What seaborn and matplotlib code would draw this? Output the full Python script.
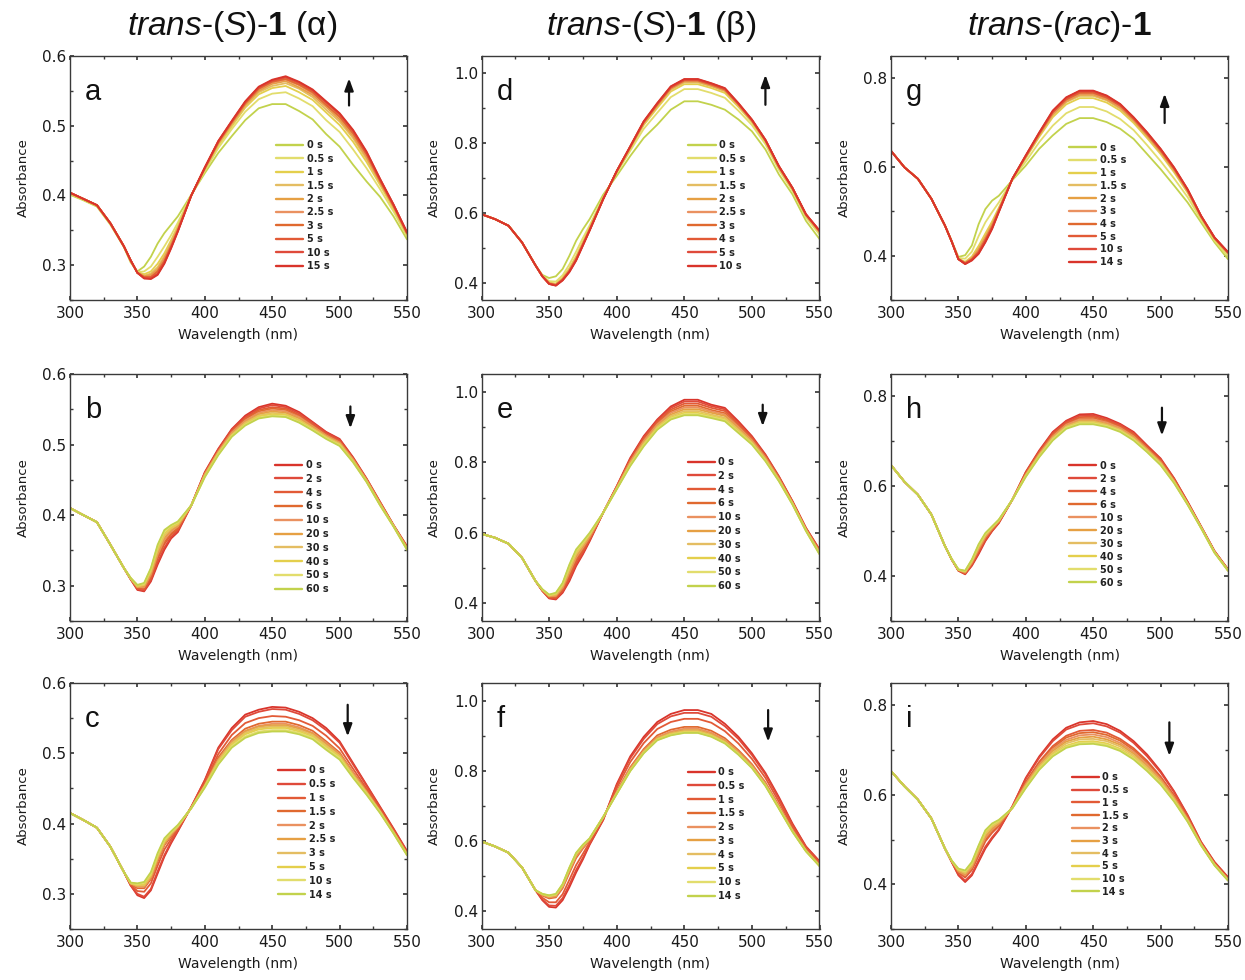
import matplotlib
matplotlib.use("Agg")
import matplotlib.pyplot as plt
from matplotlib.ticker import MultipleLocator
import pandas as pd
import seaborn as sns

# ---------------------------------------------------------------- data
wavelength = [300, 310, 320, 330, 340, 345, 350, 355, 360, 365, 370, 375, 380, 390, 400,
              410, 420, 430, 440, 450, 460, 470, 480, 490, 500, 510, 520, 530, 540, 550]

times_a = ["0 s", "0.5 s", "1 s", "1.5 s", "2 s", "2.5 s", "3 s", "5 s", "10 s", "15 s"]
absorb_a = [
    [0.401, 0.393, 0.384, 0.358, 0.326, 0.304, 0.291, 0.298, 0.312, 0.331, 0.346, 0.358, 0.370, 0.401, 0.432, 0.461, 0.485, 0.508, 0.525, 0.531, 0.531, 0.521, 0.509, 0.488, 0.470, 0.444, 0.420, 0.398, 0.370, 0.337],
    [0.402, 0.394, 0.385, 0.359, 0.326, 0.305, 0.290, 0.291, 0.298, 0.312, 0.327, 0.343, 0.361, 0.401, 0.435, 0.468, 0.495, 0.520, 0.538, 0.546, 0.548, 0.539, 0.528, 0.508, 0.491, 0.466, 0.439, 0.409, 0.377, 0.341],
    [0.403, 0.394, 0.385, 0.359, 0.327, 0.306, 0.290, 0.287, 0.291, 0.302, 0.317, 0.336, 0.356, 0.400, 0.437, 0.472, 0.499, 0.526, 0.545, 0.554, 0.557, 0.548, 0.537, 0.519, 0.501, 0.477, 0.448, 0.415, 0.381, 0.344],
    [0.403, 0.395, 0.386, 0.360, 0.327, 0.306, 0.290, 0.285, 0.288, 0.297, 0.313, 0.333, 0.354, 0.400, 0.438, 0.474, 0.502, 0.528, 0.548, 0.557, 0.561, 0.553, 0.541, 0.523, 0.506, 0.482, 0.452, 0.418, 0.383, 0.345],
    [0.403, 0.395, 0.386, 0.360, 0.327, 0.306, 0.289, 0.284, 0.286, 0.294, 0.310, 0.330, 0.352, 0.400, 0.439, 0.475, 0.503, 0.530, 0.550, 0.560, 0.564, 0.555, 0.544, 0.527, 0.509, 0.485, 0.455, 0.419, 0.384, 0.345],
    [0.404, 0.395, 0.386, 0.360, 0.327, 0.307, 0.289, 0.283, 0.284, 0.292, 0.308, 0.328, 0.351, 0.400, 0.439, 0.476, 0.504, 0.532, 0.552, 0.562, 0.566, 0.558, 0.546, 0.529, 0.512, 0.488, 0.457, 0.421, 0.385, 0.346],
    [0.404, 0.395, 0.386, 0.360, 0.327, 0.307, 0.289, 0.283, 0.283, 0.291, 0.306, 0.327, 0.350, 0.400, 0.439, 0.476, 0.505, 0.532, 0.553, 0.563, 0.567, 0.559, 0.548, 0.530, 0.513, 0.489, 0.459, 0.421, 0.385, 0.346],
    [0.404, 0.395, 0.386, 0.360, 0.327, 0.307, 0.289, 0.282, 0.282, 0.288, 0.304, 0.326, 0.349, 0.400, 0.440, 0.477, 0.506, 0.534, 0.555, 0.564, 0.569, 0.561, 0.550, 0.533, 0.516, 0.492, 0.461, 0.423, 0.386, 0.347],
    [0.404, 0.395, 0.386, 0.360, 0.327, 0.307, 0.289, 0.281, 0.281, 0.287, 0.303, 0.325, 0.349, 0.400, 0.440, 0.478, 0.506, 0.534, 0.555, 0.565, 0.570, 0.562, 0.551, 0.534, 0.517, 0.493, 0.462, 0.423, 0.387, 0.347],
    [0.404, 0.395, 0.386, 0.360, 0.327, 0.307, 0.289, 0.281, 0.280, 0.286, 0.302, 0.324, 0.348, 0.400, 0.440, 0.478, 0.507, 0.535, 0.556, 0.566, 0.571, 0.563, 0.552, 0.535, 0.518, 0.494, 0.463, 0.424, 0.387, 0.347],
]

times_d = ["0 s", "0.5 s", "1 s", "1.5 s", "2 s", "2.5 s", "3 s", "4 s", "5 s", "10 s"]
absorb_d = [
    [0.596, 0.582, 0.563, 0.515, 0.449, 0.422, 0.413, 0.418, 0.439, 0.477, 0.520, 0.553, 0.582, 0.652, 0.706, 0.763, 0.815, 0.853, 0.896, 0.920, 0.920, 0.910, 0.896, 0.868, 0.834, 0.782, 0.710, 0.653, 0.577, 0.525],
    [0.596, 0.582, 0.563, 0.515, 0.449, 0.420, 0.404, 0.403, 0.421, 0.452, 0.489, 0.528, 0.564, 0.645, 0.714, 0.778, 0.841, 0.887, 0.932, 0.955, 0.955, 0.944, 0.930, 0.893, 0.852, 0.797, 0.723, 0.663, 0.587, 0.538],
    [0.596, 0.582, 0.563, 0.515, 0.449, 0.419, 0.400, 0.397, 0.414, 0.441, 0.476, 0.517, 0.557, 0.642, 0.717, 0.785, 0.852, 0.901, 0.948, 0.969, 0.969, 0.958, 0.944, 0.904, 0.860, 0.804, 0.729, 0.668, 0.592, 0.544],
    [0.596, 0.582, 0.563, 0.515, 0.449, 0.419, 0.399, 0.395, 0.411, 0.437, 0.472, 0.513, 0.554, 0.641, 0.718, 0.787, 0.856, 0.906, 0.953, 0.974, 0.974, 0.963, 0.949, 0.908, 0.863, 0.806, 0.730, 0.669, 0.593, 0.545],
    [0.596, 0.582, 0.563, 0.515, 0.449, 0.418, 0.398, 0.394, 0.410, 0.435, 0.469, 0.511, 0.553, 0.640, 0.719, 0.788, 0.858, 0.908, 0.956, 0.977, 0.977, 0.965, 0.951, 0.910, 0.864, 0.807, 0.731, 0.670, 0.594, 0.546],
    [0.596, 0.582, 0.563, 0.515, 0.449, 0.418, 0.397, 0.393, 0.409, 0.434, 0.468, 0.510, 0.552, 0.640, 0.719, 0.789, 0.859, 0.910, 0.958, 0.979, 0.979, 0.967, 0.953, 0.911, 0.865, 0.808, 0.732, 0.671, 0.595, 0.547],
    [0.596, 0.582, 0.563, 0.515, 0.449, 0.418, 0.397, 0.393, 0.408, 0.433, 0.466, 0.509, 0.551, 0.640, 0.719, 0.789, 0.860, 0.911, 0.959, 0.980, 0.980, 0.968, 0.954, 0.912, 0.866, 0.808, 0.733, 0.671, 0.595, 0.548],
    [0.596, 0.582, 0.563, 0.515, 0.449, 0.418, 0.397, 0.392, 0.408, 0.432, 0.466, 0.508, 0.551, 0.640, 0.719, 0.790, 0.861, 0.912, 0.960, 0.981, 0.981, 0.969, 0.955, 0.913, 0.866, 0.809, 0.733, 0.671, 0.595, 0.548],
    [0.596, 0.582, 0.563, 0.515, 0.449, 0.418, 0.396, 0.392, 0.407, 0.431, 0.464, 0.507, 0.550, 0.639, 0.720, 0.790, 0.862, 0.914, 0.962, 0.983, 0.983, 0.971, 0.957, 0.914, 0.867, 0.809, 0.734, 0.672, 0.596, 0.549],
    [0.596, 0.582, 0.563, 0.515, 0.449, 0.418, 0.396, 0.391, 0.406, 0.430, 0.463, 0.506, 0.549, 0.639, 0.720, 0.791, 0.863, 0.915, 0.963, 0.984, 0.984, 0.972, 0.958, 0.915, 0.868, 0.810, 0.734, 0.672, 0.596, 0.549],
]

times_g = ["0 s", "0.5 s", "1 s", "1.5 s", "2 s", "3 s", "4 s", "5 s", "10 s", "14 s"]
absorb_g = [
    [0.636, 0.599, 0.573, 0.528, 0.468, 0.433, 0.397, 0.401, 0.423, 0.471, 0.505, 0.524, 0.535, 0.570, 0.603, 0.641, 0.671, 0.697, 0.710, 0.710, 0.701, 0.686, 0.663, 0.629, 0.595, 0.558, 0.520, 0.475, 0.430, 0.392],
    [0.636, 0.599, 0.573, 0.528, 0.468, 0.433, 0.395, 0.393, 0.409, 0.444, 0.475, 0.498, 0.520, 0.571, 0.612, 0.656, 0.693, 0.721, 0.735, 0.735, 0.725, 0.708, 0.683, 0.649, 0.613, 0.574, 0.532, 0.481, 0.434, 0.398],
    [0.636, 0.599, 0.573, 0.528, 0.468, 0.432, 0.393, 0.386, 0.398, 0.422, 0.450, 0.477, 0.508, 0.572, 0.620, 0.668, 0.712, 0.741, 0.755, 0.755, 0.745, 0.727, 0.699, 0.665, 0.629, 0.588, 0.542, 0.486, 0.438, 0.404],
    [0.636, 0.599, 0.573, 0.528, 0.468, 0.432, 0.393, 0.385, 0.395, 0.417, 0.444, 0.472, 0.505, 0.572, 0.622, 0.671, 0.716, 0.746, 0.760, 0.760, 0.750, 0.731, 0.703, 0.669, 0.632, 0.591, 0.544, 0.487, 0.439, 0.405],
    [0.636, 0.599, 0.573, 0.528, 0.468, 0.432, 0.393, 0.384, 0.394, 0.414, 0.441, 0.470, 0.504, 0.573, 0.623, 0.673, 0.719, 0.748, 0.763, 0.763, 0.752, 0.734, 0.705, 0.671, 0.634, 0.593, 0.546, 0.488, 0.439, 0.406],
    [0.636, 0.599, 0.573, 0.528, 0.468, 0.432, 0.392, 0.383, 0.393, 0.411, 0.438, 0.467, 0.502, 0.573, 0.624, 0.674, 0.721, 0.750, 0.765, 0.765, 0.754, 0.736, 0.707, 0.673, 0.636, 0.595, 0.547, 0.488, 0.440, 0.406],
    [0.636, 0.599, 0.573, 0.528, 0.468, 0.432, 0.392, 0.383, 0.392, 0.409, 0.436, 0.465, 0.501, 0.573, 0.624, 0.675, 0.723, 0.752, 0.767, 0.767, 0.756, 0.738, 0.708, 0.674, 0.637, 0.596, 0.548, 0.489, 0.440, 0.407],
    [0.636, 0.599, 0.573, 0.528, 0.468, 0.432, 0.392, 0.382, 0.391, 0.407, 0.434, 0.463, 0.500, 0.573, 0.625, 0.676, 0.724, 0.754, 0.769, 0.769, 0.758, 0.739, 0.710, 0.676, 0.639, 0.597, 0.549, 0.489, 0.440, 0.407],
    [0.636, 0.599, 0.573, 0.528, 0.468, 0.432, 0.392, 0.381, 0.390, 0.405, 0.431, 0.461, 0.499, 0.573, 0.626, 0.677, 0.726, 0.756, 0.771, 0.771, 0.760, 0.741, 0.711, 0.677, 0.640, 0.598, 0.549, 0.490, 0.441, 0.408],
    [0.636, 0.599, 0.573, 0.528, 0.468, 0.432, 0.392, 0.381, 0.389, 0.404, 0.430, 0.460, 0.498, 0.573, 0.626, 0.678, 0.727, 0.757, 0.772, 0.772, 0.761, 0.742, 0.712, 0.678, 0.641, 0.599, 0.550, 0.490, 0.441, 0.408],
]

times_b = ["0 s", "2 s", "4 s", "6 s", "10 s", "20 s", "30 s", "40 s", "50 s", "60 s"]
absorb_b = [
    [0.410, 0.400, 0.390, 0.358, 0.325, 0.309, 0.294, 0.292, 0.306, 0.330, 0.351, 0.367, 0.376, 0.414, 0.461, 0.494, 0.522, 0.541, 0.553, 0.558, 0.555, 0.546, 0.532, 0.518, 0.508, 0.482, 0.452, 0.419, 0.386, 0.356],
    [0.410, 0.400, 0.390, 0.358, 0.325, 0.309, 0.295, 0.293, 0.308, 0.333, 0.354, 0.369, 0.378, 0.414, 0.460, 0.493, 0.521, 0.539, 0.551, 0.556, 0.553, 0.544, 0.531, 0.517, 0.507, 0.481, 0.451, 0.418, 0.386, 0.355],
    [0.410, 0.400, 0.390, 0.358, 0.325, 0.310, 0.296, 0.295, 0.311, 0.338, 0.359, 0.372, 0.380, 0.414, 0.459, 0.491, 0.519, 0.537, 0.549, 0.553, 0.551, 0.542, 0.529, 0.515, 0.505, 0.480, 0.451, 0.418, 0.385, 0.355],
    [0.410, 0.400, 0.390, 0.358, 0.325, 0.310, 0.297, 0.297, 0.313, 0.341, 0.362, 0.374, 0.382, 0.414, 0.458, 0.490, 0.518, 0.536, 0.547, 0.551, 0.549, 0.540, 0.527, 0.514, 0.504, 0.479, 0.450, 0.417, 0.385, 0.354],
    [0.410, 0.400, 0.390, 0.358, 0.325, 0.310, 0.298, 0.298, 0.316, 0.344, 0.365, 0.377, 0.384, 0.414, 0.458, 0.490, 0.517, 0.534, 0.545, 0.549, 0.547, 0.539, 0.526, 0.513, 0.503, 0.479, 0.450, 0.417, 0.385, 0.354],
    [0.410, 0.400, 0.390, 0.358, 0.325, 0.310, 0.298, 0.299, 0.318, 0.347, 0.368, 0.379, 0.385, 0.414, 0.457, 0.489, 0.515, 0.532, 0.543, 0.547, 0.545, 0.537, 0.525, 0.512, 0.502, 0.478, 0.449, 0.416, 0.385, 0.353],
    [0.410, 0.400, 0.390, 0.358, 0.325, 0.310, 0.299, 0.301, 0.320, 0.350, 0.371, 0.381, 0.387, 0.414, 0.456, 0.488, 0.514, 0.531, 0.541, 0.545, 0.543, 0.535, 0.523, 0.511, 0.501, 0.477, 0.448, 0.415, 0.385, 0.352],
    [0.410, 0.400, 0.390, 0.358, 0.325, 0.311, 0.300, 0.302, 0.322, 0.353, 0.374, 0.383, 0.388, 0.414, 0.455, 0.487, 0.513, 0.529, 0.540, 0.543, 0.542, 0.534, 0.522, 0.510, 0.500, 0.476, 0.448, 0.415, 0.384, 0.352],
    [0.410, 0.400, 0.390, 0.358, 0.325, 0.311, 0.301, 0.303, 0.324, 0.356, 0.377, 0.385, 0.390, 0.414, 0.454, 0.486, 0.512, 0.528, 0.538, 0.541, 0.540, 0.532, 0.521, 0.509, 0.499, 0.475, 0.447, 0.414, 0.384, 0.351],
    [0.410, 0.400, 0.390, 0.358, 0.325, 0.311, 0.301, 0.304, 0.325, 0.358, 0.379, 0.386, 0.391, 0.414, 0.454, 0.485, 0.511, 0.527, 0.537, 0.540, 0.539, 0.531, 0.520, 0.508, 0.498, 0.475, 0.447, 0.414, 0.384, 0.351],
]

times_e = ["0 s", "2 s", "4 s", "6 s", "10 s", "20 s", "30 s", "40 s", "50 s", "60 s"]
absorb_e = [
    [0.597, 0.586, 0.569, 0.529, 0.463, 0.435, 0.414, 0.411, 0.430, 0.463, 0.506, 0.539, 0.576, 0.657, 0.732, 0.812, 0.874, 0.921, 0.958, 0.977, 0.977, 0.963, 0.954, 0.916, 0.874, 0.822, 0.760, 0.690, 0.614, 0.553],
    [0.597, 0.586, 0.569, 0.529, 0.463, 0.436, 0.415, 0.413, 0.433, 0.468, 0.511, 0.543, 0.579, 0.657, 0.731, 0.809, 0.871, 0.918, 0.954, 0.972, 0.972, 0.959, 0.950, 0.912, 0.871, 0.820, 0.758, 0.689, 0.613, 0.551],
    [0.597, 0.586, 0.569, 0.529, 0.463, 0.436, 0.417, 0.416, 0.437, 0.475, 0.518, 0.548, 0.582, 0.657, 0.730, 0.806, 0.867, 0.914, 0.949, 0.966, 0.966, 0.954, 0.945, 0.908, 0.868, 0.817, 0.757, 0.688, 0.612, 0.550],
    [0.597, 0.586, 0.569, 0.529, 0.463, 0.437, 0.418, 0.418, 0.441, 0.481, 0.524, 0.553, 0.585, 0.657, 0.728, 0.803, 0.863, 0.910, 0.944, 0.960, 0.960, 0.948, 0.939, 0.903, 0.865, 0.815, 0.755, 0.686, 0.610, 0.548],
    [0.597, 0.586, 0.569, 0.529, 0.463, 0.438, 0.420, 0.421, 0.444, 0.487, 0.530, 0.558, 0.588, 0.657, 0.728, 0.801, 0.860, 0.907, 0.940, 0.955, 0.955, 0.944, 0.935, 0.900, 0.862, 0.813, 0.753, 0.685, 0.610, 0.546],
    [0.597, 0.586, 0.569, 0.529, 0.463, 0.438, 0.421, 0.423, 0.447, 0.492, 0.535, 0.562, 0.591, 0.657, 0.727, 0.798, 0.856, 0.903, 0.935, 0.950, 0.950, 0.940, 0.931, 0.896, 0.859, 0.810, 0.751, 0.684, 0.609, 0.544],
    [0.597, 0.586, 0.569, 0.529, 0.463, 0.439, 0.422, 0.425, 0.450, 0.497, 0.540, 0.566, 0.594, 0.657, 0.725, 0.795, 0.853, 0.900, 0.931, 0.945, 0.945, 0.935, 0.926, 0.892, 0.856, 0.808, 0.750, 0.683, 0.607, 0.543],
    [0.597, 0.586, 0.569, 0.529, 0.463, 0.439, 0.423, 0.427, 0.454, 0.502, 0.545, 0.570, 0.596, 0.657, 0.724, 0.793, 0.850, 0.897, 0.927, 0.940, 0.940, 0.931, 0.922, 0.888, 0.854, 0.806, 0.748, 0.682, 0.606, 0.541],
    [0.597, 0.586, 0.569, 0.529, 0.463, 0.440, 0.424, 0.429, 0.456, 0.507, 0.550, 0.573, 0.598, 0.657, 0.724, 0.791, 0.847, 0.894, 0.924, 0.936, 0.936, 0.928, 0.919, 0.885, 0.852, 0.804, 0.747, 0.681, 0.606, 0.540],
    [0.597, 0.586, 0.569, 0.529, 0.463, 0.440, 0.425, 0.430, 0.458, 0.510, 0.553, 0.576, 0.600, 0.657, 0.723, 0.789, 0.845, 0.892, 0.921, 0.933, 0.933, 0.925, 0.916, 0.883, 0.850, 0.803, 0.746, 0.680, 0.605, 0.539],
]

times_h = ["0 s", "2 s", "4 s", "6 s", "10 s", "20 s", "30 s", "40 s", "50 s", "60 s"]
absorb_h = [
    [0.647, 0.610, 0.581, 0.537, 0.467, 0.437, 0.412, 0.404, 0.423, 0.449, 0.478, 0.500, 0.518, 0.570, 0.632, 0.680, 0.721, 0.746, 0.760, 0.761, 0.752, 0.739, 0.721, 0.691, 0.662, 0.618, 0.566, 0.511, 0.456, 0.415],
    [0.647, 0.610, 0.581, 0.537, 0.467, 0.437, 0.412, 0.405, 0.425, 0.452, 0.480, 0.501, 0.519, 0.570, 0.631, 0.678, 0.719, 0.744, 0.757, 0.758, 0.749, 0.737, 0.719, 0.689, 0.660, 0.617, 0.565, 0.510, 0.455, 0.415],
    [0.647, 0.610, 0.581, 0.537, 0.467, 0.437, 0.413, 0.406, 0.427, 0.455, 0.483, 0.503, 0.520, 0.570, 0.629, 0.676, 0.716, 0.741, 0.754, 0.755, 0.747, 0.734, 0.716, 0.687, 0.658, 0.615, 0.564, 0.510, 0.455, 0.414],
    [0.647, 0.610, 0.581, 0.537, 0.467, 0.437, 0.413, 0.407, 0.428, 0.458, 0.485, 0.504, 0.521, 0.570, 0.628, 0.674, 0.714, 0.739, 0.751, 0.752, 0.744, 0.732, 0.714, 0.685, 0.656, 0.614, 0.563, 0.509, 0.454, 0.414],
    [0.647, 0.610, 0.581, 0.537, 0.467, 0.438, 0.414, 0.408, 0.430, 0.460, 0.487, 0.506, 0.522, 0.570, 0.626, 0.672, 0.711, 0.737, 0.749, 0.749, 0.742, 0.730, 0.711, 0.683, 0.654, 0.612, 0.562, 0.509, 0.454, 0.413],
    [0.647, 0.610, 0.581, 0.537, 0.467, 0.438, 0.414, 0.409, 0.432, 0.463, 0.490, 0.507, 0.523, 0.570, 0.625, 0.670, 0.709, 0.734, 0.746, 0.746, 0.739, 0.727, 0.709, 0.681, 0.652, 0.611, 0.561, 0.508, 0.453, 0.413],
    [0.647, 0.610, 0.581, 0.537, 0.467, 0.438, 0.414, 0.410, 0.433, 0.465, 0.491, 0.508, 0.524, 0.570, 0.624, 0.669, 0.707, 0.733, 0.744, 0.744, 0.737, 0.726, 0.707, 0.680, 0.651, 0.610, 0.561, 0.508, 0.453, 0.413],
    [0.647, 0.610, 0.581, 0.537, 0.467, 0.438, 0.414, 0.411, 0.435, 0.467, 0.493, 0.509, 0.525, 0.570, 0.623, 0.668, 0.705, 0.731, 0.742, 0.742, 0.735, 0.724, 0.705, 0.679, 0.650, 0.609, 0.560, 0.508, 0.453, 0.412],
    [0.647, 0.610, 0.581, 0.537, 0.467, 0.438, 0.415, 0.411, 0.436, 0.469, 0.494, 0.510, 0.525, 0.570, 0.622, 0.666, 0.704, 0.730, 0.740, 0.740, 0.734, 0.723, 0.704, 0.677, 0.648, 0.608, 0.560, 0.507, 0.452, 0.412],
    [0.647, 0.610, 0.581, 0.537, 0.467, 0.438, 0.415, 0.412, 0.437, 0.471, 0.496, 0.511, 0.526, 0.570, 0.621, 0.665, 0.702, 0.728, 0.738, 0.738, 0.732, 0.721, 0.702, 0.676, 0.647, 0.607, 0.559, 0.507, 0.452, 0.412],
]

times_c = ["0 s", "0.5 s", "1 s", "1.5 s", "2 s", "2.5 s", "3 s", "5 s", "10 s", "14 s"]
absorb_c = [
    [0.415, 0.405, 0.394, 0.367, 0.331, 0.312, 0.298, 0.294, 0.305, 0.329, 0.353, 0.372, 0.389, 0.424, 0.462, 0.508, 0.536, 0.555, 0.562, 0.566, 0.565, 0.559, 0.550, 0.536, 0.517, 0.486, 0.455, 0.424, 0.393, 0.361],
    [0.415, 0.405, 0.394, 0.367, 0.331, 0.312, 0.300, 0.296, 0.307, 0.332, 0.355, 0.374, 0.390, 0.424, 0.461, 0.506, 0.533, 0.552, 0.559, 0.563, 0.562, 0.556, 0.547, 0.533, 0.515, 0.484, 0.454, 0.423, 0.392, 0.360],
    [0.415, 0.405, 0.394, 0.367, 0.331, 0.313, 0.304, 0.303, 0.315, 0.340, 0.363, 0.378, 0.392, 0.423, 0.458, 0.499, 0.526, 0.543, 0.550, 0.553, 0.552, 0.547, 0.539, 0.525, 0.507, 0.478, 0.450, 0.421, 0.390, 0.359],
    [0.415, 0.405, 0.394, 0.367, 0.331, 0.314, 0.308, 0.308, 0.321, 0.346, 0.369, 0.382, 0.394, 0.423, 0.455, 0.494, 0.519, 0.535, 0.542, 0.545, 0.545, 0.540, 0.532, 0.517, 0.501, 0.473, 0.447, 0.419, 0.389, 0.357],
    [0.415, 0.405, 0.394, 0.367, 0.331, 0.315, 0.310, 0.310, 0.323, 0.349, 0.371, 0.384, 0.395, 0.423, 0.454, 0.491, 0.517, 0.532, 0.539, 0.542, 0.542, 0.537, 0.529, 0.515, 0.499, 0.472, 0.445, 0.418, 0.388, 0.357],
    [0.415, 0.405, 0.394, 0.367, 0.331, 0.315, 0.311, 0.311, 0.324, 0.350, 0.372, 0.385, 0.396, 0.423, 0.454, 0.490, 0.515, 0.531, 0.538, 0.540, 0.540, 0.535, 0.528, 0.513, 0.498, 0.470, 0.445, 0.417, 0.388, 0.357],
    [0.415, 0.405, 0.394, 0.367, 0.331, 0.315, 0.312, 0.312, 0.326, 0.352, 0.374, 0.386, 0.396, 0.422, 0.453, 0.489, 0.514, 0.529, 0.536, 0.538, 0.538, 0.533, 0.526, 0.511, 0.496, 0.469, 0.444, 0.417, 0.387, 0.356],
    [0.415, 0.405, 0.394, 0.367, 0.331, 0.315, 0.313, 0.314, 0.327, 0.354, 0.375, 0.387, 0.397, 0.422, 0.453, 0.487, 0.512, 0.527, 0.534, 0.536, 0.536, 0.531, 0.524, 0.509, 0.495, 0.468, 0.443, 0.416, 0.387, 0.356],
    [0.415, 0.405, 0.394, 0.367, 0.331, 0.316, 0.314, 0.316, 0.329, 0.356, 0.377, 0.388, 0.397, 0.422, 0.452, 0.485, 0.510, 0.524, 0.531, 0.533, 0.533, 0.529, 0.522, 0.507, 0.493, 0.466, 0.442, 0.416, 0.386, 0.355],
    [0.415, 0.405, 0.394, 0.367, 0.331, 0.316, 0.315, 0.317, 0.331, 0.358, 0.379, 0.389, 0.398, 0.422, 0.451, 0.484, 0.508, 0.522, 0.529, 0.531, 0.531, 0.527, 0.520, 0.505, 0.491, 0.465, 0.441, 0.415, 0.386, 0.355],
]

times_f = ["0 s", "0.5 s", "1 s", "1.5 s", "2 s", "3 s", "4 s", "5 s", "10 s", "14 s"]
absorb_f = [
    [0.599, 0.585, 0.567, 0.525, 0.460, 0.432, 0.413, 0.411, 0.432, 0.469, 0.511, 0.548, 0.590, 0.660, 0.762, 0.841, 0.897, 0.939, 0.962, 0.973, 0.973, 0.962, 0.934, 0.897, 0.850, 0.794, 0.725, 0.650, 0.585, 0.543],
    [0.599, 0.585, 0.567, 0.525, 0.460, 0.434, 0.417, 0.416, 0.438, 0.476, 0.518, 0.553, 0.592, 0.661, 0.759, 0.836, 0.891, 0.933, 0.955, 0.965, 0.965, 0.954, 0.927, 0.891, 0.845, 0.790, 0.721, 0.647, 0.583, 0.541],
    [0.599, 0.585, 0.567, 0.525, 0.460, 0.439, 0.426, 0.426, 0.449, 0.490, 0.532, 0.564, 0.597, 0.663, 0.751, 0.825, 0.879, 0.919, 0.939, 0.948, 0.948, 0.937, 0.913, 0.878, 0.834, 0.780, 0.712, 0.641, 0.580, 0.538],
    [0.599, 0.585, 0.567, 0.525, 0.460, 0.445, 0.437, 0.440, 0.466, 0.510, 0.552, 0.579, 0.603, 0.667, 0.741, 0.810, 0.862, 0.901, 0.917, 0.925, 0.925, 0.914, 0.893, 0.859, 0.819, 0.767, 0.701, 0.633, 0.575, 0.533],
    [0.599, 0.585, 0.567, 0.525, 0.460, 0.447, 0.440, 0.443, 0.470, 0.515, 0.557, 0.582, 0.605, 0.667, 0.739, 0.807, 0.858, 0.896, 0.912, 0.920, 0.920, 0.909, 0.888, 0.855, 0.816, 0.764, 0.698, 0.631, 0.574, 0.532],
    [0.599, 0.585, 0.567, 0.525, 0.460, 0.448, 0.442, 0.445, 0.472, 0.518, 0.560, 0.585, 0.606, 0.668, 0.737, 0.804, 0.856, 0.893, 0.908, 0.916, 0.916, 0.905, 0.885, 0.852, 0.813, 0.761, 0.696, 0.630, 0.573, 0.531],
    [0.599, 0.585, 0.567, 0.525, 0.460, 0.449, 0.443, 0.447, 0.474, 0.521, 0.563, 0.587, 0.607, 0.668, 0.736, 0.802, 0.854, 0.891, 0.906, 0.913, 0.913, 0.902, 0.882, 0.850, 0.811, 0.760, 0.695, 0.629, 0.572, 0.530],
    [0.599, 0.585, 0.567, 0.525, 0.460, 0.449, 0.444, 0.448, 0.476, 0.522, 0.564, 0.588, 0.607, 0.669, 0.735, 0.801, 0.852, 0.890, 0.904, 0.911, 0.911, 0.900, 0.881, 0.849, 0.810, 0.759, 0.694, 0.628, 0.572, 0.530],
    [0.599, 0.585, 0.567, 0.525, 0.460, 0.450, 0.445, 0.449, 0.477, 0.524, 0.566, 0.589, 0.608, 0.669, 0.735, 0.800, 0.851, 0.888, 0.902, 0.909, 0.909, 0.898, 0.879, 0.847, 0.809, 0.758, 0.693, 0.627, 0.571, 0.529],
    [0.599, 0.585, 0.567, 0.525, 0.460, 0.450, 0.446, 0.450, 0.478, 0.525, 0.567, 0.590, 0.608, 0.669, 0.734, 0.799, 0.850, 0.887, 0.901, 0.908, 0.908, 0.897, 0.878, 0.846, 0.808, 0.757, 0.692, 0.627, 0.571, 0.529],
]

times_i = ["0 s", "0.5 s", "1 s", "1.5 s", "2 s", "3 s", "4 s", "5 s", "10 s", "14 s"]
absorb_i = [
    [0.653, 0.619, 0.589, 0.547, 0.480, 0.450, 0.420, 0.405, 0.420, 0.450, 0.480, 0.502, 0.521, 0.574, 0.638, 0.686, 0.724, 0.750, 0.762, 0.765, 0.758, 0.743, 0.720, 0.690, 0.653, 0.608, 0.555, 0.495, 0.450, 0.416],
    [0.653, 0.619, 0.589, 0.547, 0.480, 0.450, 0.422, 0.408, 0.423, 0.454, 0.484, 0.505, 0.523, 0.574, 0.636, 0.683, 0.720, 0.746, 0.757, 0.760, 0.753, 0.739, 0.716, 0.686, 0.650, 0.606, 0.554, 0.494, 0.449, 0.415],
    [0.653, 0.619, 0.589, 0.547, 0.480, 0.451, 0.426, 0.415, 0.432, 0.464, 0.496, 0.515, 0.530, 0.572, 0.629, 0.674, 0.709, 0.732, 0.743, 0.745, 0.739, 0.725, 0.704, 0.676, 0.641, 0.599, 0.549, 0.492, 0.447, 0.413],
    [0.653, 0.619, 0.589, 0.547, 0.480, 0.451, 0.427, 0.418, 0.435, 0.468, 0.500, 0.519, 0.532, 0.572, 0.627, 0.671, 0.705, 0.728, 0.738, 0.740, 0.734, 0.721, 0.700, 0.672, 0.638, 0.597, 0.548, 0.491, 0.446, 0.412],
    [0.653, 0.619, 0.589, 0.547, 0.480, 0.452, 0.429, 0.420, 0.438, 0.472, 0.504, 0.522, 0.535, 0.572, 0.624, 0.668, 0.702, 0.723, 0.733, 0.735, 0.729, 0.716, 0.696, 0.668, 0.635, 0.594, 0.546, 0.490, 0.445, 0.411],
    [0.653, 0.619, 0.589, 0.547, 0.480, 0.452, 0.430, 0.423, 0.441, 0.476, 0.508, 0.525, 0.537, 0.571, 0.622, 0.665, 0.698, 0.719, 0.728, 0.730, 0.724, 0.712, 0.692, 0.664, 0.632, 0.592, 0.545, 0.489, 0.444, 0.410],
    [0.653, 0.619, 0.589, 0.547, 0.480, 0.452, 0.432, 0.425, 0.443, 0.479, 0.512, 0.529, 0.539, 0.571, 0.620, 0.663, 0.694, 0.715, 0.724, 0.725, 0.720, 0.708, 0.688, 0.661, 0.630, 0.590, 0.543, 0.489, 0.444, 0.410],
    [0.653, 0.619, 0.589, 0.547, 0.480, 0.453, 0.433, 0.428, 0.446, 0.483, 0.516, 0.532, 0.541, 0.570, 0.618, 0.660, 0.691, 0.710, 0.719, 0.720, 0.715, 0.703, 0.684, 0.657, 0.627, 0.588, 0.542, 0.488, 0.443, 0.409],
    [0.653, 0.619, 0.589, 0.547, 0.480, 0.453, 0.434, 0.429, 0.448, 0.485, 0.519, 0.534, 0.543, 0.570, 0.616, 0.658, 0.688, 0.707, 0.716, 0.717, 0.712, 0.700, 0.681, 0.655, 0.625, 0.586, 0.541, 0.487, 0.443, 0.409],
    [0.653, 0.619, 0.589, 0.547, 0.480, 0.453, 0.435, 0.431, 0.450, 0.487, 0.521, 0.536, 0.544, 0.570, 0.615, 0.656, 0.686, 0.705, 0.713, 0.714, 0.709, 0.698, 0.679, 0.653, 0.623, 0.585, 0.540, 0.487, 0.442, 0.408],
]

column_titles = [r"$\mathit{trans}$-($\mathit{S}$)-$\mathbf{1}$ (α)",
                 r"$\mathit{trans}$-($\mathit{S}$)-$\mathbf{1}$ (β)",
                 r"$\mathit{trans}$-($\mathit{rac}$)-$\mathbf{1}$"]

# ---------------------------------------------------------------- style
sns.set_theme(style="ticks")
plt.rcParams["font.family"] = ["DejaVu Sans"]
plt.rcParams.update({
    "mathtext.fontset": "custom",
    "mathtext.rm": "Liberation Sans",
    "mathtext.it": "Liberation Sans:italic",
    "mathtext.bf": "Liberation Sans:bold",
    "axes.edgecolor": "#3a3a3a",
    "axes.linewidth": 1.0,
    "xtick.direction": "in", "ytick.direction": "in",
    "xtick.top": True, "ytick.right": True,
    "xtick.minor.visible": True, "ytick.minor.visible": True,
    "xtick.major.size": 3.2, "ytick.major.size": 3.2,
    "xtick.minor.size": 2.0, "ytick.minor.size": 2.0,
    "xtick.color": "#3a3a3a", "ytick.color": "#3a3a3a",
    "xtick.labelcolor": "#1a1a1a", "ytick.labelcolor": "#1a1a1a",
    "xtick.labelsize": 11, "ytick.labelsize": 11,
    "xtick.major.pad": 4.0, "ytick.major.pad": 2.5,
})

# red (early) -> yellow-green (late); reversed for the growing series
RED_TO_GREEN = ["#d9342b", "#df4a3a", "#e25a36", "#e0692f", "#ea9160",
                "#e6a043", "#e4bd62", "#e4cf4c", "#e2dd6c", "#c2d24c"]

W, H = 1245, 980
col_left = [70, 481.5, 891]
col_width = [337, 338, 337]
row_top = [56, 374, 683]
row_height = [244, 247, 246]

panels = [
    # key, times, spectra, col, row, ylim, ystep, rising, arrow (x, tail, head), legend (x, y, spacing)
    ("a", times_a, absorb_a, 0, 0, (0.25, 0.60), 0.1, True, (507, 0.529, 0.568), (0.612, 0.631, 0.35)),
    ("b", times_b, absorb_b, 0, 1, (0.25, 0.60), 0.1, False, (508, 0.554, 0.523), (0.609, 0.629, 0.39)),
    ("c", times_c, absorb_c, 0, 2, (0.25, 0.60), 0.1, False, (506, 0.569, 0.524), (0.617, 0.642, 0.39)),
    ("d", times_d, absorb_d, 1, 0, (0.35, 1.05), 0.2, True, (510, 0.910, 0.996), (0.612, 0.631, 0.35)),
    ("e", times_e, absorb_e, 1, 1, (0.35, 1.05), 0.2, False, (508, 0.963, 0.902), (0.610, 0.641, 0.39)),
    ("f", times_f, absorb_f, 1, 2, (0.35, 1.05), 0.2, False, (512, 0.973, 0.883), (0.610, 0.636, 0.39)),
    ("g", times_g, absorb_g, 2, 0, (0.30, 0.85), 0.2, True, (503, 0.699, 0.765), (0.528, 0.622, 0.28)),
    ("h", times_h, absorb_h, 2, 1, (0.30, 0.85), 0.2, False, (501, 0.775, 0.713), (0.529, 0.627, 0.31)),
    ("i", times_i, absorb_i, 2, 2, (0.30, 0.85), 0.2, False, (506.5, 0.762, 0.687), (0.536, 0.614, 0.28)),
]

fig = plt.figure(figsize=(W / 100, H / 100), dpi=100)

for key, times, spectra, col, row, ylim, ystep, rising, arrow, leg in panels:
    left, width = col_left[col], col_width[col]
    top, height = row_top[row], row_height[row]
    ax = fig.add_axes([left / W, 1 - (top + height) / H, width / W, height / H])

    frame = pd.DataFrame(
        [(t, w, v) for t, spec in zip(times, spectra) for w, v in zip(wavelength, spec)],
        columns=["time", "wavelength", "absorbance"],
    )
    colors = RED_TO_GREEN[::-1] if rising else RED_TO_GREEN
    sns.lineplot(data=frame, x="wavelength", y="absorbance", hue="time",
                 hue_order=times, palette=colors, estimator=None, sort=False,
                 linewidth=1.3, ax=ax)

    ax.set_xlim(300, 550)
    ax.set_ylim(*ylim)
    ax.xaxis.set_major_locator(MultipleLocator(50))
    ax.xaxis.set_minor_locator(MultipleLocator(25))
    ax.yaxis.set_major_locator(MultipleLocator(ystep))
    ax.yaxis.set_minor_locator(MultipleLocator(ystep / 2))
    ax.yaxis.set_major_formatter(plt.FormatStrFormatter("%.1f"))
    ax.set_xlabel("Wavelength (nm)", fontsize=10, labelpad=5, color="#1a1a1a")
    ax.set_ylabel("Absorbance", fontsize=9.5, labelpad=9, color="#1a1a1a")

    ax.text(0.045, 0.82, key, transform=ax.transAxes, fontsize=21,
            family="Liberation Sans", va="baseline", ha="left", color="#111111")

    ax_x, tail, head = arrow
    ax.annotate("", xy=(ax_x, head), xytext=(ax_x, tail),
                arrowprops=dict(arrowstyle="-|>,head_length=0.6,head_width=0.22",
                                color="#111111", lw=1.6, mutation_scale=12,
                                shrinkA=0, shrinkB=0))

    lx, ly, spacing = leg
    handles, labels = ax.get_legend_handles_labels()
    legend = ax.legend(handles, labels, loc="upper left",
                       bbox_to_anchor=(lx, ly + 5.6 / height),
                       frameon=False, prop={"weight": "bold", "size": 7},
                       handlelength=2.8, handletextpad=0.35, labelspacing=spacing,
                       borderpad=0, borderaxespad=0)
    for line in legend.get_lines():
        line.set_linewidth(1.7)
    for text in legend.get_texts():
        text.set_color("#222222")

centers = [232, 651, 1059]
for cx, title in zip(centers, column_titles):
    fig.text(cx / W, 1 - 27 / H, title, fontsize=24, family="Liberation Sans",
             ha="center", va="center", color="#111111")

fig.savefig("out.png", dpi=100)
